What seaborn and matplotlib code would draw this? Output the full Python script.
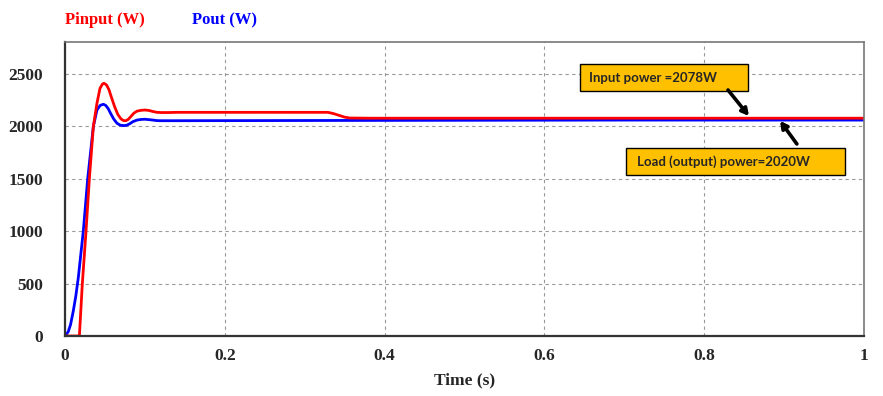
import matplotlib
matplotlib.use("Agg")
import matplotlib.pyplot as plt
import seaborn as sns
import pandas as pd
from matplotlib.patches import Rectangle

# ---- data ----
t_in = [0.0, 0.018, 0.0217, 0.0263, 0.0305, 0.0355, 0.040, 0.0438, 0.047,
        0.049, 0.052, 0.055, 0.058, 0.062, 0.066, 0.070, 0.073, 0.076, 0.079, 0.082, 0.086,
        0.090, 0.095, 0.100, 0.105, 0.110, 0.115, 0.120, 0.130, 0.140, 0.200, 0.300,
        0.329, 0.336, 0.343, 0.350, 0.356, 0.380, 0.500, 0.700, 1.0]
p_in = [0, 0, 500, 1000, 1500, 2000, 2221, 2363, 2405,
        2411, 2395, 2350, 2280, 2190, 2115, 2072, 2056, 2054, 2066, 2090, 2125,
        2145, 2153, 2156, 2152, 2142, 2134, 2132, 2132, 2134, 2134, 2134,
        2134, 2122, 2105, 2088, 2080, 2078, 2078, 2078, 2078]

t_out = [0.0, 0.004, 0.007, 0.0104, 0.0135, 0.0167, 0.0198, 0.0229, 0.0284, 0.0355,
         0.040, 0.044, 0.048, 0.051, 0.054, 0.057, 0.061, 0.065, 0.069, 0.073, 0.077,
         0.081, 0.085, 0.090, 0.095, 0.100, 0.108, 0.115, 0.120, 0.140, 0.300, 0.500,
         0.700, 1.0]
p_out = [0, 40, 110, 240, 380, 560, 780, 1000, 1500, 2000,
         2156, 2200, 2211, 2200, 2170, 2125, 2070, 2030, 2012, 2007, 2010,
         2025, 2045, 2060, 2066, 2068, 2062, 2055, 2054, 2054, 2056, 2058,
         2060, 2060]

x_ticks = [0, 0.2, 0.4, 0.6, 0.8, 1.0]
x_tick_labels = ["0", "0.2", "0.4", "0.6", "0.8", "1"]
y_ticks = [0, 500, 1000, 1500, 2000, 2500]
y_tick_labels = ["0", "500", "1000", "1500", "2000", "2500"]

legend_labels = ["Pinput (W)", "Pout (W)"]
annot_in = "Input power =2078W"
annot_out = "Load (output) power=2020W"

# ---- plotting ----
sns.set_style("white")
plt.rcParams["font.family"] = ["Liberation Serif", "DejaVu Serif"]

fig = plt.figure(figsize=(8.83, 3.96), dpi=100)
ax = fig.add_axes([65 / 883, 60 / 396, 799 / 883, 294 / 396])

df_in = pd.DataFrame({"t": t_in, "p": p_in})
df_out = pd.DataFrame({"t": t_out, "p": p_out})
sns.lineplot(data=df_out, x="t", y="p", ax=ax, color="#0000FF", lw=2.0, sort=False)
sns.lineplot(data=df_in, x="t", y="p", ax=ax, color="#FF0000", lw=2.0, sort=False)

ax.set_xlim(0, 1)
ax.set_ylim(0, 2805)
ax.set_xticks(x_ticks)
ax.set_xticklabels(x_tick_labels, fontsize=12.5, fontweight="bold")
ax.set_yticks(y_ticks)
ax.set_yticklabels(y_tick_labels, fontsize=12.5, fontweight="bold")
ax.tick_params(axis="x", length=0, pad=9)
ax.tick_params(axis="y", length=0, pad=16)
ax.set_xlabel("Time (s)", fontsize=12.5, fontweight="bold", labelpad=6)
ax.set_ylabel("")

ax.grid(True, color="#999999", linestyle=(0, (3, 3)), linewidth=0.8)
ax.set_axisbelow(True)
for side in ["left", "bottom"]:
    ax.spines[side].set_color("#333333")
    ax.spines[side].set_linewidth(1.6)
for side in ["top", "right"]:
    ax.spines[side].set_color("#777777")
    ax.spines[side].set_linewidth(1.2)

# series titles above plot
fig.text(65 / 883, 1 - 20 / 396, legend_labels[0], color="#FF0000", fontsize=12,
         fontweight="bold", va="center", ha="left")
fig.text(192 / 883, 1 - 20 / 396, legend_labels[1], color="#0000FF", fontsize=12,
         fontweight="bold", va="center", ha="left")

# annotation boxes
box_color = "#FFC000"
ax.add_patch(Rectangle((0.6446, 2338), 0.2103, 257, facecolor=box_color,
                       edgecolor="black", lw=1.0, zorder=5))
ax.text(0.6558, 2466, annot_in, fontsize=9.5, fontweight="bold",
        family=["Lato", "DejaVu Sans"], va="center", ha="left", zorder=6)
ax.add_patch(Rectangle((0.702, 1536), 0.274, 258, facecolor=box_color,
                       edgecolor="black", lw=1.0, zorder=5))
ax.text(0.7155, 1665, annot_out, fontsize=9.5, fontweight="bold",
        family=["Lato", "DejaVu Sans"], va="center", ha="left", zorder=6)

arrow_kw = dict(arrowstyle="-|>,head_length=0.4,head_width=0.22", color="black", lw=2.6,
                shrinkA=0, shrinkB=0)
ax.annotate("", xy=(0.856, 2099), xytext=(0.8298, 2347), arrowprops=arrow_kw, zorder=7)
ax.annotate("", xy=(0.895, 2052), xytext=(0.916, 1832), arrowprops=arrow_kw, zorder=7)

fig.savefig("out.png", dpi=100)
